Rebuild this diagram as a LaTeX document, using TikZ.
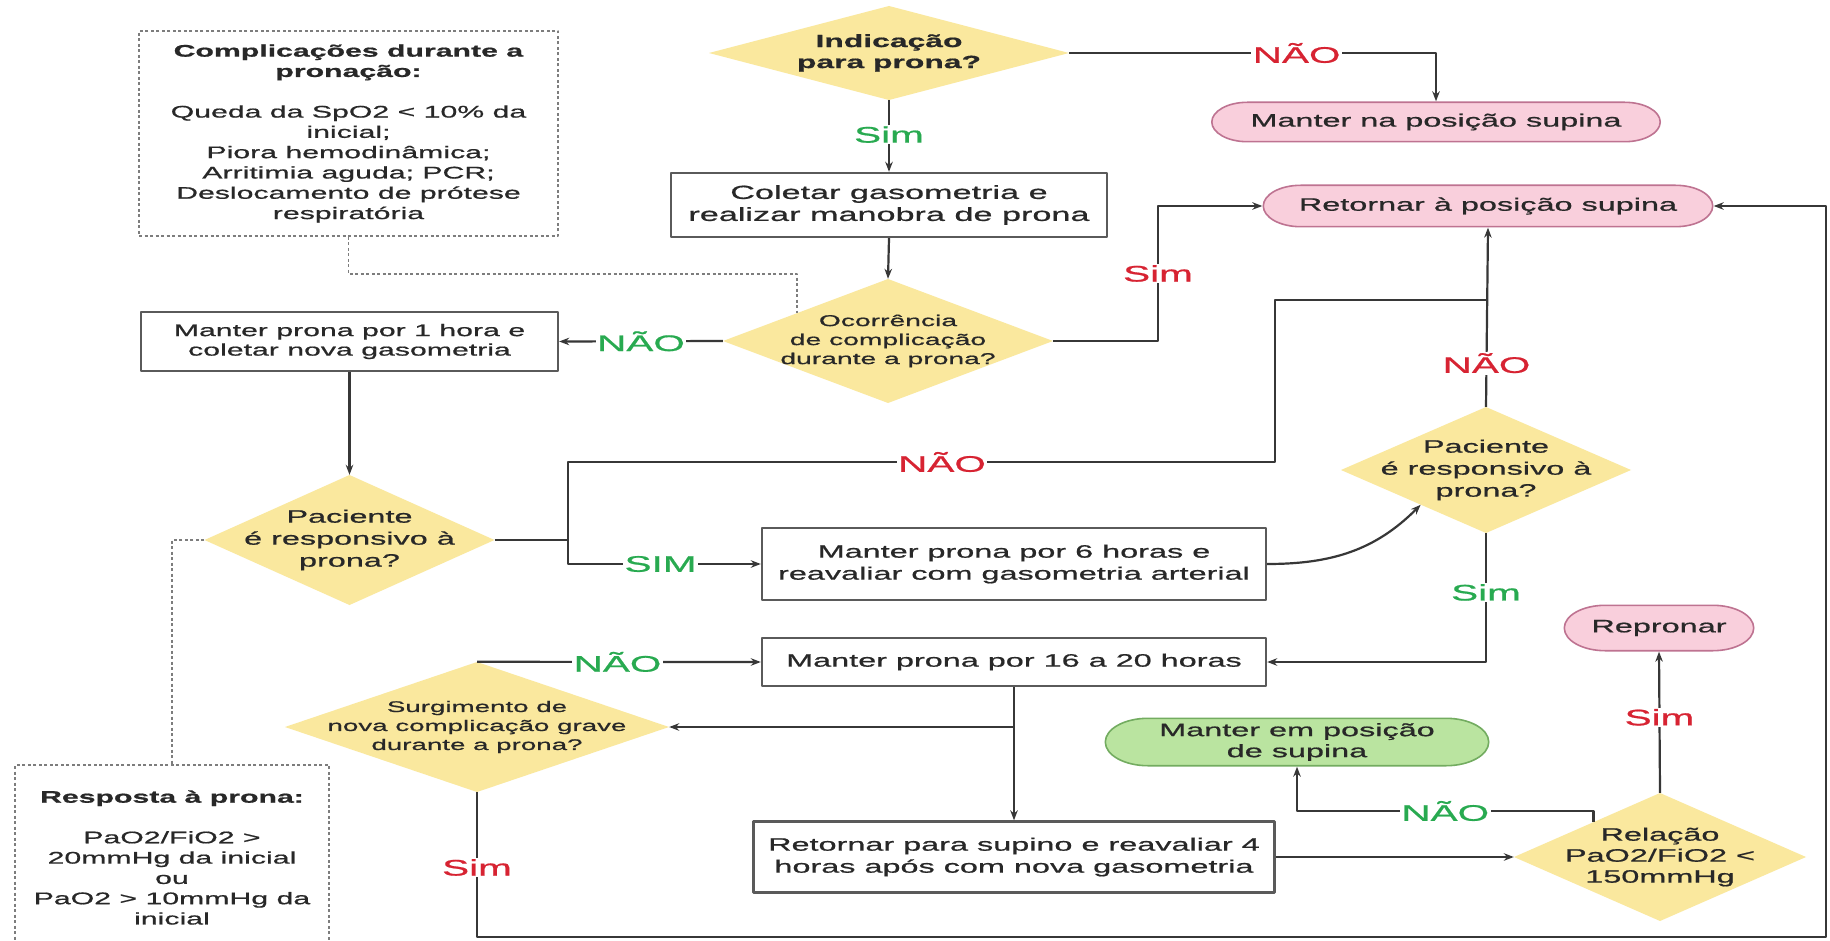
\documentclass[tikz,border=0pt]{standalone}
\usepackage{fontspec}
\newfontfamily\dgfont{Liberation Sans}[FakeStretch=1.8, FakeBold=0.8]
\usetikzlibrary{arrows.meta,calc}

\definecolor{ink}{RGB}{40,40,40}
\definecolor{ln}{RGB}{55,55,55}
\definecolor{boxline}{RGB}{90,90,90}
\definecolor{noteline}{RGB}{125,125,125}
\definecolor{dfill}{RGB}{250,232,158}
\definecolor{pinkfill}{RGB}{249,207,220}
\definecolor{pinkline}{RGB}{190,115,145}
\definecolor{greenfill}{RGB}{186,228,160}
\definecolor{greenline}{RGB}{115,172,96}
\definecolor{lred}{RGB}{215,35,50}
\definecolor{lgreen}{RGB}{40,170,80}

\begin{document}
\begin{tikzpicture}[x=1pt, y=-1pt, line join=round,
  fsz/.style 2 args={font=\dgfont\fontsize{#1}{#2}\selectfont},
  every node/.style={text=ink},
  box/.style={draw=boxline, line width=2.4pt, fill=white, inner sep=0pt, align=center},
  note/.style={draw=noteline, line width=1.6pt, dash pattern=on 3pt off 2.5pt,
    fill=white, inner sep=0pt, align=center},
  decision/.style={rectangle, inner sep=0pt, align=center,
    path picture={\fill[dfill] (path picture bounding box.north)
      -- (path picture bounding box.east) -- (path picture bounding box.south)
      -- (path picture bounding box.west) -- cycle;}},
  pill/.style 2 args={rectangle, inner sep=0pt, align=center,
    path picture={
      \draw[draw=#2, fill=#1, line width=1.6pt]
        let \p1=(path picture bounding box.south west),
            \p2=(path picture bounding box.north east),
            \n1={(\y2-\y1)/2-0.8pt}, \n2={1.8*\n1} in
        (\x1+\n2+0.8pt,\y2-0.8pt) -- (\x2-\n2-0.8pt,\y2-0.8pt)
        arc[start angle=90, end angle=-90, x radius=\n2, y radius=\n1]
        -- (\x1+\n2+0.8pt,\y1+0.8pt)
        arc[start angle=270, end angle=90, x radius=\n2, y radius=\n1]
        -- cycle;}},
  conn/.style={draw=ln, line width=2.2pt},
  arr/.style={conn, -{Stealth[length=10pt, width=7.5pt]}},
  dashln/.style={draw=noteline, line width=1.6pt, dash pattern=on 3pt off 2.5pt},
  lbl/.style={fill=white, inner sep=1.5pt, fsz={22.5}{25}},
  redlbl/.style={lbl, text=lred},
  greenlbl/.style={lbl, text=lgreen}
]
\fill[white] (0,0) rectangle (1830,941);
\useasboundingbox (0,0) rectangle (1830,941);

% ---- nodes ----
\node[note, fsz={16.8}{20.3}, minimum width=419pt, minimum height=205pt] (comp) at (348.5,133.5)
  {\textbf{Complicações durante a}\\\textbf{pronação:}\\[20.3pt]Queda da SpO2 < 10\% da\\inicial;\\Piora hemodinâmica;\\Arritimia aguda; PCR;\\Deslocamento de prótese\\respiratória};

\node[decision, fsz={17.7}{21}, minimum width=360pt, minimum height=94pt] (d1) at (889,53)
  {\textbf{Indicação}\\\textbf{para prona?}};

\node[pill={pinkfill}{pinkline}, fsz={18}{22}, minimum width=450pt, minimum height=41pt] (mns) at (1436,122)
  {Manter na posição supina};

\node[box, fsz={19}{22}, minimum width=436pt, minimum height=64pt] (col) at (889,205)
  {Coletar gasometria e\\realizar manobra de prona};

\node[pill={pinkfill}{pinkline}, fsz={18}{22}, minimum width=451pt, minimum height=43pt] (ret) at (1488,206)
  {Retornar à posição supina};

\node[decision, fsz={15.7}{19}, minimum width=330pt, minimum height=124pt] (d2) at (888,341)
  {Ocorrência\\de complicação\\durante a prona?};

\node[box, fsz={16.8}{19.5}, minimum width=417pt, minimum height=59pt] (m1h) at (349.5,341.5)
  {Manter prona por 1 hora e\\coletar nova gasometria};

\node[decision, fsz={18}{22}, minimum width=290pt, minimum height=130pt] (p1) at (349.5,540)
  {Paciente\\é responsivo à\\prona?};

\node[note, fsz={16.8}{20.3}, minimum width=314pt, minimum height=185pt] (resp) at (172,857.5)
  {\textbf{Resposta à prona:}\\[20.3pt]PaO2/FiO2 >\\20mmHg da inicial\\ou\\PaO2 > 10mmHg da\\inicial};

\node[box, fsz={18}{22}, minimum width=504pt, minimum height=72pt] (d6h) at (1014,564)
  {Manter prona por 6 horas e\\reavaliar com gasometria arterial};

\node[decision, fsz={18}{22}, minimum width=290pt, minimum height=126pt] (p2) at (1486,470)
  {Paciente\\é responsivo à\\prona?};

\node[box, fsz={18}{22}, minimum width=504pt, minimum height=48pt] (m1620) at (1014,662)
  {Manter prona por 16 a 20 horas};

\node[decision, fsz={15.4}{19}, minimum width=384pt, minimum height=130pt] (surg) at (477,727)
  {Surgimento de\\nova complicação grave\\durante a prona?};

\node[pill={pinkfill}{pinkline}, fsz={18}{22}, minimum width=191pt, minimum height=47pt] (rep) at (1659,628)
  {Repronar};

\node[pill={greenfill}{greenline}, fsz={18}{21}, minimum width=385pt, minimum height=49pt] (mes) at (1297,742)
  {Manter em posição\\de supina};

\node[box, fsz={18}{22}, minimum width=521pt, minimum height=71pt] (rsup) at (1014,857)
  {Retornar para supino e reavaliar 4\\horas após com nova gasometria};

\node[decision, fsz={18}{21}, minimum width=292pt, minimum height=128pt] (rel) at (1660,857)
  {Relação\\PaO2/FiO2 <\\150mmHg};

% ---- junction points ----
\coordinate (d2ul) at ($(d2.west)!0.45!(d2.north)$);
\coordinate (p2ll) at ($(p2.west)!0.55!(p2.south)$);
\coordinate (relul) at ($(rel.west)!0.545!(rel.north)$);
\coordinate (j1) at (568,540);
\coordinate (j2) at (1275,300);

% ---- connectors ----
\draw[arr] (d1.south) -- node[greenlbl, pos=0.48] (lsim0) {Sim} (col.north);
\draw[arr] (d1.east) -| node[redlbl, pos=0.31] (lnao0) {NÃO} (mns.north);
\draw[arr] (col.south) -- (d2.north);
\draw[dashln] (comp.south) -- (comp.south |- 0,274) -| (d2ul);
\draw[arr] (d2.west) -- node[greenlbl, pos=0.5] (lnao1) {NÃO} (m1h.east);
\draw[arr] (d2.east) -- (d2.east -| 1158,0) |- node[redlbl, pos=0.25] (lsim1) {Sim} (ret.west);
\draw[arr] (m1h.south) -- (p1.north);
\draw[dashln] (p1.west) -| (resp.north);

\draw[conn] (p1.east) -- (j1) |- (1275,462) -- (j2) -- (p2.north |- j2);
\node[redlbl] (lnao2) at (942,462) {NÃO};
\draw[arr] (j1) |- node[greenlbl, pos=0.74] (lsim2) {SIM} (d6h.west);
\draw[arr] (d6h.east) to[out=0, in=-135] (p2ll);

\draw[arr] (p2.north) -- node[redlbl, pos=0.244] (lnao3) {NÃO} (ret.south);
\draw[arr] (p2.south) |- node[greenlbl, pos=0.23] (lsim3) {Sim} (m1620.east);

\draw[arr] (surg.north) -- node[greenlbl, pos=0.495] (lnao4) {NÃO} (m1620.west);
\draw[arr] (m1620.south) -- (rsup.north);
\draw[arr] (m1620.south |- surg.east) -- (surg.east);
\draw[arr] (rsup.east) -- (rel.west);
\draw[arr] (rel.north) -- node[redlbl, pos=0.535] (lsim4) {Sim} (rep.south);
\draw[arr] (relul) -- (relul |- 0,811) -| node[greenlbl, pos=0.25] (lnao5) {NÃO} (mes.south);

\draw[arr] (surg.south) -- node[redlbl, pos=0.52] (lsim5) {Sim} (surg.south |- 0,937)
  -| (ret.east -| 1826,0) -- (ret.east);
\end{tikzpicture}
\end{document}
